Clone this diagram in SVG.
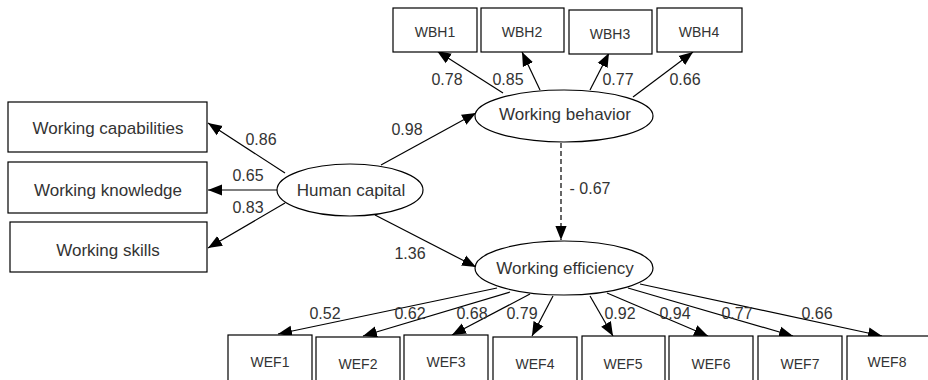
<svg xmlns="http://www.w3.org/2000/svg" width="928" height="380" viewBox="0 0 928 380">
<defs>
<marker id="ah" viewBox="0 0 10 10" refX="10" refY="5" markerWidth="9" markerHeight="9" markerUnits="userSpaceOnUse" orient="auto">
<path d="M0,0 L10,5 L0,10 z" fill="#000"/>
</marker>
<marker id="ahb" viewBox="0 0 10 10" refX="10" refY="5" markerWidth="14" markerHeight="14" markerUnits="userSpaceOnUse" orient="auto">
<path d="M0,1 L10,5 L0,9 z" fill="#000"/>
</marker>
</defs>
<style>
.box{fill:#fff;stroke:#000;stroke-width:1.2}
.ell{fill:#fff;stroke:#000;stroke-width:1.2}
.t{font-family:"Liberation Sans",Arial,sans-serif;fill:#333;text-anchor:middle;dominant-baseline:central}
.big{font-size:17px}
.sm{font-size:14px}
.num{font-family:"Liberation Sans",Arial,sans-serif;fill:#333;font-size:16px;text-anchor:middle;dominant-baseline:central}
.c{stroke:#000;stroke-width:1.2;fill:none;marker-end:url(#ahb)}
.d{stroke-dasharray:5,3}
</style>
<rect width="928" height="380" fill="#fff"/>
<g id="connectors">
<line class="c" x1="285" y1="173" x2="208" y2="123"/>
<line class="c" x1="278" y1="190" x2="208" y2="190"/>
<line class="c" x1="285" y1="203" x2="208" y2="248"/>
<line class="c" x1="381" y1="165" x2="476" y2="113"/>
<line class="c" x1="375" y1="215" x2="476" y2="267"/>
<line class="c d" x1="561" y1="143" x2="561" y2="240"/>
<line class="c" x1="503" y1="93" x2="437" y2="51"/>
<line class="c" x1="540" y1="90" x2="522" y2="52"/>
<line class="c" x1="590" y1="90" x2="609" y2="53"/>
<line class="c" x1="633" y1="97" x2="693" y2="52"/>
<line class="c" x1="497" y1="288" x2="278" y2="334"/>
<line class="c" x1="510" y1="292" x2="363" y2="336"/>
<line class="c" x1="530" y1="294" x2="452" y2="335"/>
<line class="c" x1="553" y1="296" x2="532" y2="336"/>
<line class="c" x1="590" y1="296" x2="613" y2="336"/>
<line class="c" x1="607" y1="293" x2="708" y2="336"/>
<line class="c" x1="628" y1="288" x2="793" y2="336"/>
<line class="c" x1="640" y1="284" x2="882" y2="336"/>
<text class="num" x="261" y="139">0.86</text>
<text class="num" x="248" y="175">0.65</text>
<text class="num" x="248" y="207">0.83</text>
<text class="num" x="407" y="129">0.98</text>
<text class="num" x="410" y="253">1.36</text>
<text class="num" x="590" y="188">- 0.67</text>
<text class="num" x="447" y="79">0.78</text>
<text class="num" x="508" y="79">0.85</text>
<text class="num" x="618" y="79">0.77</text>
<text class="num" x="685" y="79">0.66</text>
<text class="num" x="325" y="313">0.52</text>
<text class="num" x="410" y="313">0.62</text>
<text class="num" x="472" y="313">0.68</text>
<text class="num" x="522" y="313">0.79</text>
<text class="num" x="620" y="313">0.92</text>
<text class="num" x="675" y="313">0.94</text>
<text class="num" x="737" y="313">0.77</text>
<text class="num" x="817" y="313">0.66</text>
</g>
<g id="hc"><ellipse class="ell" cx="350" cy="190" rx="73" ry="26"/><text class="t big" x="351" y="190">Human capital</text></g>
<g id="wb"><ellipse class="ell" cx="564" cy="116" rx="89" ry="26"/><text class="t big" x="565" y="114">Working behavior</text></g>
<g id="we"><ellipse class="ell" cx="564" cy="268" rx="89" ry="27"/><text class="t big" x="565" y="268">Working efficiency</text></g>
<g id="wcap"><rect class="box" x="8" y="102" width="199" height="50"/><text class="t big" x="108" y="128">Working capabilities</text></g>
<g id="wkn"><rect class="box" x="8" y="162" width="199" height="51"/><text class="t big" x="108" y="190">Working knowledge</text></g>
<g id="wsk"><rect class="box" x="10" y="222" width="197" height="50"/><text class="t big" x="108" y="250">Working skills</text></g>
<g id="wbh1"><rect class="box" x="393" y="8" width="84" height="44"/><text class="t sm" x="435" y="32">WBH1</text></g>
<g id="wbh2"><rect class="box" x="481" y="8" width="83" height="44"/><text class="t sm" x="522" y="32">WBH2</text></g>
<g id="wbh3"><rect class="box" x="569" y="10" width="83" height="44"/><text class="t sm" x="610" y="34">WBH3</text></g>
<g id="wbh4"><rect class="box" x="657" y="8" width="85" height="44"/><text class="t sm" x="699" y="32">WBH4</text></g>
<g id="wef1"><rect class="box" x="228" y="335" width="84" height="50"/><text class="t sm" x="270" y="362">WEF1</text></g>
<g id="wef2"><rect class="box" x="316" y="337" width="84" height="50"/><text class="t sm" x="358" y="364">WEF2</text></g>
<g id="wef3"><rect class="box" x="404" y="335" width="84" height="50"/><text class="t sm" x="446" y="362">WEF3</text></g>
<g id="wef4"><rect class="box" x="493" y="337" width="84" height="50"/><text class="t sm" x="535" y="364">WEF4</text></g>
<g id="wef5"><rect class="box" x="582" y="336" width="83" height="50"/><text class="t sm" x="623" y="364">WEF5</text></g>
<g id="wef6"><rect class="box" x="669" y="336" width="84" height="50"/><text class="t sm" x="711" y="364">WEF6</text></g>
<g id="wef7"><rect class="box" x="758" y="336" width="84" height="50"/><text class="t sm" x="800" y="364">WEF7</text></g>
<g id="wef8"><rect class="box" x="847" y="336" width="84" height="50"/><text class="t sm" x="887" y="362">WEF8</text></g>
</svg>
